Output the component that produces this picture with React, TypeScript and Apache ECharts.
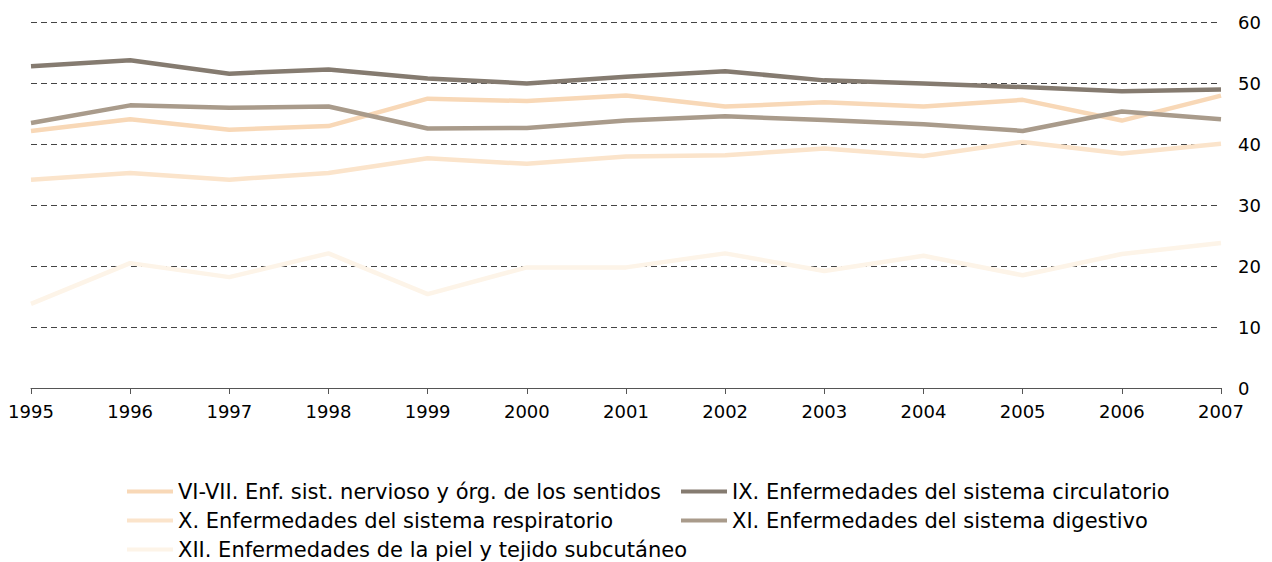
import React, { useEffect, useRef } from "react";
import * as echarts from "echarts";

const years = ["1995","1996","1997","1998","1999","2000","2001","2002","2003","2004","2005","2006","2007"];

const nervioso = [42.2, 44.1, 42.4, 43.0, 47.5, 47.1, 48.0, 46.2, 46.9, 46.2, 47.3, 43.9, 48.0];
const circulatorio = [52.8, 53.8, 51.6, 52.3, 50.8, 50.0, 51.1, 52.0, 50.5, 50.0, 49.4, 48.7, 49.0];
const respiratorio = [34.2, 35.3, 34.2, 35.3, 37.7, 36.8, 38.0, 38.2, 39.3, 38.1, 40.4, 38.5, 40.1];
const digestivo = [43.5, 46.4, 46.0, 46.2, 42.6, 42.7, 43.9, 44.6, 44.0, 43.3, 42.2, 45.4, 44.1];
const piel = [13.8, 20.5, 18.2, 22.1, 15.4, 19.8, 19.8, 22.1, 19.2, 21.7, 18.5, 22.0, 23.8];

const names = [
  "VI-VII. Enf. sist. nervioso y órg. de los sentidos",
  "IX. Enfermedades del sistema circulatorio",
  "X. Enfermedades del sistema respiratorio",
  "XI. Enfermedades del sistema digestivo",
  "XII. Enfermedades de la piel y tejido subcutáneo",
];
const colors = ["#F8D8B7", "#857B70", "#FBE4CB", "#A99B8B", "#FDF4E8"];
const values = [nervioso, circulatorio, respiratorio, digestivo, piel];

export default function App() {
  const ref = useRef<HTMLDivElement>(null);
  useEffect(() => {
    if (!ref.current) return;
    const chart = echarts.init(ref.current, undefined, { renderer: "svg" });
    const font = "DejaVu Sans";
    const legendCommon = {
      orient: "vertical",
      icon: "rect",
      itemWidth: 46,
      itemHeight: 4,
      itemGap: 8,
      top: 481,
      padding: 0,
      height: 80,
      textStyle: { fontFamily: font, fontSize: 21, color: "#000", lineHeight: 21 },
      selectedMode: false,
    };
    chart.setOption({
      animation: false,
      color: colors,
      grid: { left: 31, right: 51, top: 22.5, bottom: 174, containLabel: false },
      legend: [
        { ...legendCommon, left: 127, data: [names[0], names[2], names[4]] },
        { ...legendCommon, left: 681, data: [names[1], names[3]] },
      ],
      xAxis: {
        type: "category",
        data: years,
        boundaryGap: false,
        axisLine: { show: true, lineStyle: { color: "#555", width: 1 } },
        axisTick: { show: true, length: 6, lineStyle: { color: "#555" } },
        axisLabel: { fontFamily: font, fontSize: 18, color: "#000", margin: 14 },
      },
      yAxis: {
        type: "value",
        position: "right",
        min: 0,
        max: 60,
        interval: 10,
        axisLine: { show: false },
        axisTick: { show: false },
        axisLabel: { fontFamily: font, fontSize: 18, color: "#000", margin: 17 },
        splitLine: { show: true, lineStyle: { color: "#444", width: 1, type: [6, 4] } },
      },
      series: names.map((n, i) => ({
        name: n,
        type: "line",
        data: values[i],
        showSymbol: false,
        symbol: "none",
        lineStyle: { width: 4.5, color: colors[i] },
        itemStyle: { color: colors[i] },
      })),
    });
    return () => chart.dispose();
  }, []);
  return (
    <div
      ref={ref}
      style={{ position: "absolute", left: 0, top: 0, width: 1272, height: 562, background: "#fff" }}
    />
  );
}
